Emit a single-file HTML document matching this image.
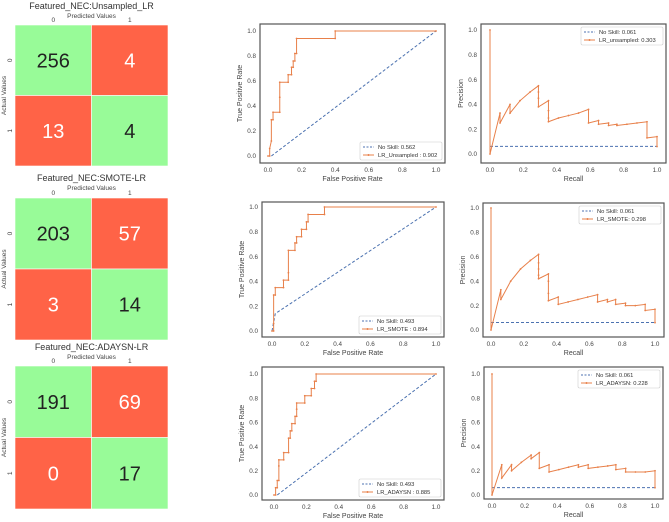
<!DOCTYPE html>
<html><head><meta charset="utf-8">
<style>
body{margin:0;background:#fff;font-family:"Liberation Sans",sans-serif;}
svg{display:block}
</style></head>
<body>
<svg id="root" width="669" height="522" viewBox="0 0 669 522" xmlns="http://www.w3.org/2000/svg"></svg>
<script>
// ---- Confusion matrix data ----
const cmTitles = ["Featured_NEC:Unsampled_LR","Featured_NEC:SMOTE-LR","Featured_NEC:ADAYSN-LR"];
const cmValues = [[256,4,13,4],[203,57,3,14],[191,69,0,17]];
const cmClassLabels = ["0","1"];

// ---- ROC data ----
const rocLabels = ["LR_Unsampled : 0.902","LR_SMOTE : 0.894","LR_ADAYSN : 0.885"];
const rocNoSkill = ["No Skill: 0.562","No Skill: 0.493","No Skill: 0.493"];
const roc1Fpr = [0,0.01,0.01,0.02,0.02,0.03,0.03,0.07,0.07,0.07,0.12,0.12,0.14,0.14,0.15,0.15,0.16,0.16,0.17,0.17,0.40,0.40,1.0];
const roc1Tpr = [0,0,0.06,0.12,0.29,0.29,0.35,0.35,0.47,0.59,0.59,0.65,0.65,0.71,0.71,0.76,0.76,0.82,0.82,0.94,0.94,1.0,1.0];
const roc2Fpr = [0,0.01,0.01,0.01,0.02,0.02,0.07,0.07,0.10,0.10,0.10,0.14,0.14,0.15,0.15,0.18,0.18,0.21,0.21,0.22,0.22,0.32,0.32,1.0];
const roc2Tpr = [0,0,0.06,0.29,0.29,0.35,0.35,0.41,0.41,0.47,0.65,0.65,0.71,0.71,0.76,0.76,0.82,0.82,0.88,0.88,0.94,0.94,1.0,1.0];
const roc3Fpr = [0,0.01,0.01,0.02,0.02,0.03,0.03,0.03,0.06,0.06,0.09,0.09,0.10,0.10,0.11,0.11,0.13,0.13,0.14,0.14,0.14,0.19,0.19,0.23,0.23,0.25,0.25,0.26,0.26,1.0];
const roc3Tpr = [0,0,0.06,0.06,0.12,0.12,0.24,0.29,0.29,0.35,0.35,0.47,0.47,0.53,0.53,0.59,0.59,0.65,0.65,0.71,0.76,0.76,0.82,0.82,0.88,0.88,0.94,0.94,1.0,1.0];
const ns1X = [0.02,1.0], ns1Y = [0,1.0];
const ns2X = [0,0.02,1.0], ns2Y = [0,0.14,1.0];
const ns3X = [0.02,1.0], ns3Y = [0,1.0];

// ---- PR data ----
const prLabels = ["LR_unsampled: 0.303","LR_SMOTE: 0.298","LR_ADAYSN: 0.228"];
const prNoSkillVal = [0.061,0.061,0.061];
const pr1Rec = [0,0,0.06,0.06,0.12,0.12,0.18,0.24,0.29,0.29,0.29,0.29,0.35,0.35,0.35,0.35,0.41,0.47,0.53,0.59,0.59,0.65,0.65,0.71,0.71,0.76,0.76,0.82,0.88,0.94,0.94,1.0,1.0];
const pr1Prec = [1.0,0,0.33,0.25,0.40,0.33,0.43,0.50,0.55,0.50,0.45,0.38,0.43,0.35,0.29,0.26,0.29,0.31,0.33,0.36,0.25,0.27,0.24,0.25,0.23,0.24,0.23,0.24,0.25,0.26,0.13,0.14,0.06];
const pr2Rec = [0,0,0.06,0.06,0.12,0.18,0.24,0.29,0.29,0.29,0.29,0.29,0.35,0.35,0.35,0.35,0.41,0.41,0.47,0.53,0.59,0.65,0.65,0.71,0.71,0.76,0.76,0.82,0.82,0.88,0.94,0.94,1.0,1.0];
const pr2Prec = [1.0,0,0.33,0.25,0.40,0.50,0.57,0.62,0.55,0.50,0.45,0.42,0.46,0.40,0.30,0.24,0.27,0.21,0.23,0.25,0.27,0.29,0.23,0.25,0.23,0.25,0.21,0.22,0.20,0.20,0.21,0.16,0.17,0.06];
const pr3Rec = [0,0,0.06,0.06,0.12,0.12,0.18,0.24,0.24,0.29,0.29,0.35,0.35,0.41,0.47,0.53,0.53,0.59,0.59,0.65,0.71,0.76,0.76,0.82,0.82,0.88,0.94,1.0,1.0];
const pr3Prec = [1.0,0,0.25,0.14,0.25,0.20,0.27,0.33,0.30,0.35,0.22,0.25,0.19,0.21,0.23,0.25,0.23,0.25,0.22,0.23,0.24,0.25,0.21,0.22,0.19,0.19,0.19,0.20,0.06];
const tickVals = [0,0.2,0.4,0.6,0.8,1.0];
const tickLabels = ["0.0","0.2","0.4","0.6","0.8","1.0"];

const NS="http://www.w3.org/2000/svg";
const root=document.getElementById('root');
function mk(tag,attrs,parent,text){const e=document.createElementNS(NS,tag);for(const k in attrs)e.setAttribute(k,attrs[k]);if(text!==undefined)e.textContent=text;(parent||root).appendChild(e);return e;}

// ---- Confusion matrices ----
const cmGeo=[{y0:25,y1:166,ty:9},{y0:198,y1:340,ty:181},{y0:366,y1:509,ty:350}];
const GREEN="#98fb98",RED="#ff6347";
cmGeo.forEach((g,i)=>{
  const grp=mk('g',{},root);
  
  
  const x0=15,x1=168,cw=(x1-x0)/2,ch=(g.y1-g.y0)/2;
  const t=mk('text',{x:(x0+x1)/2,y:g.ty,'font-size':9,'text-anchor':'middle',fill:'#333'},grp,cmTitles[i]);
  
  
  const pv=mk('text',{x:(x0+x1)/2,y:g.ty+9,'font-size':6.5,'text-anchor':'middle',fill:'#444'},grp,'Predicted Values');
  
  
  const av=mk('text',{x:0,y:0,'font-size':6.5,'text-anchor':'middle',fill:'#444',transform:`translate(6,${(g.y0+g.y1)/2}) rotate(-90)`},grp,'Actual Values');
  
  
  for(let c=0;c<2;c++){
    const tl=mk('text',{x:x0+cw*(c+0.5),y:g.y0-3,'font-size':6.5,'text-anchor':'middle',fill:'#444'},grp,cmClassLabels[c]);
    
    
    const yl=mk('text',{x:0,y:0,'font-size':6.5,'text-anchor':'middle',fill:'#444',transform:`translate(12,${g.y0+ch*(c+0.5)}) rotate(-90)`},grp,cmClassLabels[c]);
    
    
  }
  for(let r=0;r<2;r++)for(let c=0;c<2;c++){
    const diag=r===c;
    const rc=mk('rect',{x:x0+c*cw,y:g.y0+r*ch,width:cw,height:ch,fill:diag?GREEN:RED,stroke:'#fff','stroke-width':0.6},grp);
    
    
    const v=mk('text',{x:x0+c*cw+cw/2,y:g.y0+r*ch+ch/2+7,'font-size':20,'text-anchor':'middle',fill:diag?'#222':'#fff'},grp,String(cmValues[i][r*2+c]));
    
    
  }
});

// ---- Line panels ----
function panel(p){
  const grp=mk('g',{},root);
  
  
  const sx=v=>p.ax0+(p.ax1-p.ax0)*v, sy=v=>p.ay0+(p.ay1-p.ay0)*v;
  const fr=mk('rect',{x:p.fx0,y:p.fy0,width:p.fx1-p.fx0,height:p.fy1-p.fy0,fill:'#fff',stroke:'#555','stroke-width':1.2},grp);
  
  
  tickVals.forEach((v,k)=>{
    const a=mk('text',{x:sx(v),y:p.fy1+9,'font-size':6.3,'text-anchor':'middle',fill:'#444'},grp,tickLabels[k]);
    
    
    const b=mk('text',{x:p.fx0-4,y:sy(v)+2.2,'font-size':6.3,'text-anchor':'end',fill:'#444'},grp,tickLabels[k]);
    
    
  });
  const xl=mk('text',{x:(p.fx0+p.fx1)/2,y:p.fy1+18,'font-size':7,'text-anchor':'middle',fill:'#444'},grp,p.xlab);
  
  
  const yl=mk('text',{x:0,y:0,'font-size':7,'text-anchor':'middle',fill:'#444',transform:`translate(${p.fx0-18},${(p.fy0+p.fy1)/2}) rotate(-90)`},grp,p.ylab);
  
  
  const nsPts=p.nsX.map((x,k)=>sx(x)+','+sy(p.nsY[k])).join(' ');
  const nl=mk('polyline',{points:nsPts,fill:'none',stroke:'#4c72b0','stroke-width':1,'stroke-dasharray':'3,2'},grp);
  
  
  const pts=p.xs.map((x,k)=>sx(x)+','+sy(p.ys[k])).join(' ');
  const ml=mk('polyline',{points:pts,fill:'none',stroke:'#e8804a','stroke-width':1},grp);
  
  
  p.xs.forEach((x,k)=>{
    const c=mk('circle',{cx:sx(x),cy:sy(p.ys[k]),r:0.9,fill:'#e8804a'},grp);
    
    
  });
  // legend
  const lw=82,lh=18;
  const lx=p.fx1-lw-3, ly=p.legTop?p.fy0+3:p.fy1-lh-3;
  const lg=mk('g',{},grp);
  
  
  mk('rect',{x:lx,y:ly,width:lw,height:lh,fill:'#fff',stroke:'#ccc','stroke-width':0.6,rx:1.5},lg);
  mk('line',{x1:lx+3,y1:ly+5,x2:lx+14,y2:ly+5,stroke:'#4c72b0','stroke-width':1,'stroke-dasharray':'2,1.5'},lg);
  const e1=mk('text',{x:lx+18,y:ly+7,'font-size':5.8,fill:'#333'},lg,p.nsLabel);
  
  
  mk('line',{x1:lx+3,y1:ly+13,x2:lx+14,y2:ly+13,stroke:'#e8804a','stroke-width':1},lg);
  mk('circle',{cx:lx+8.5,cy:ly+13,r:1,fill:'#e8804a'},lg);
  const e2=mk('text',{x:lx+18,y:ly+15,'font-size':5.8,fill:'#333'},lg,p.label);
  
  
}
const rocGeo=[
 {fx0:260,fx1:445,fy0:24,fy1:163,ax0:268,ax1:436,ay0:156,ay1:31},
 {fx0:262,fx1:444,fy0:202,fy1:337,ax0:272,ax1:436,ay0:331,ay1:207},
 {fx0:262,fx1:444,fy0:367,fy1:500,ax0:274,ax1:436,ay0:495,ay1:374}];
const prGeo=[
 {fx0:481,fx1:666,fy0:24,fy1:163,ax0:490,ax1:657,ay0:154,ay1:30},
 {fx0:483,fx1:664,fy0:203,fy1:337,ax0:491,ax1:655,ay0:330,ay1:208},
 {fx0:484,fx1:663,fy0:367,fy1:499,ax0:492,ax1:655,ay0:495,ay1:374}];
const rocX=[roc1Fpr,roc2Fpr,roc3Fpr], rocY=[roc1Tpr,roc2Tpr,roc3Tpr];
const nsXs=[ns1X,ns2X,ns3X], nsYs=[ns1Y,ns2Y,ns3Y];
const prX=[pr1Rec,pr2Rec,pr3Rec], prY=[pr1Prec,pr2Prec,pr3Prec];
for(let i=0;i<3;i++){
  panel(Object.assign({name:'roc-chart-'+(i+1),xlab:'False Positive Rate',ylab:'True Positive Rate',xs:rocX[i],ys:rocY[i],nsX:nsXs[i],nsY:nsYs[i],nsLabel:rocNoSkill[i],label:rocLabels[i],legTop:false},rocGeo[i]));
  panel(Object.assign({name:'pr-chart-'+(i+1),xlab:'Recall',ylab:'Precision',xs:prX[i],ys:prY[i],nsX:[0,1],nsY:[prNoSkillVal[i],prNoSkillVal[i]],nsLabel:'No Skill: '+prNoSkillVal[i].toFixed(3),label:prLabels[i],legTop:true},prGeo[i]));
}
</script>
</body></html>
